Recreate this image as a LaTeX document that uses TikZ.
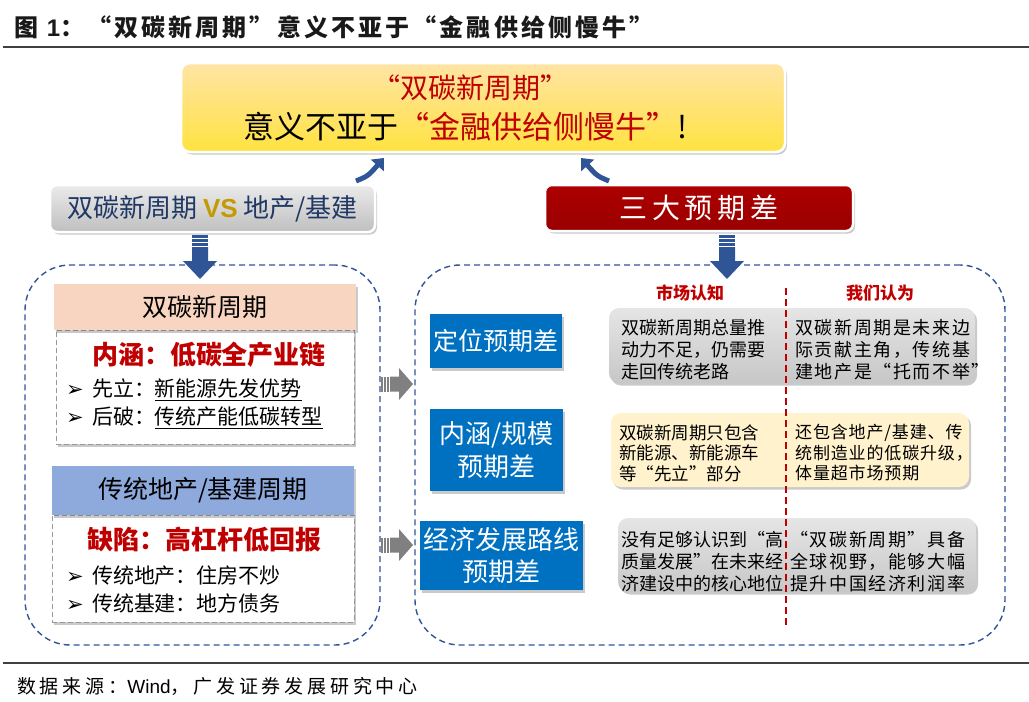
\documentclass[tikz,border=0pt]{standalone}
\usepackage{fontspec}
\setmainfont{Noto Sans CJK SC}
\newfontfamily\dejavu{DejaVu Sans}
\newfontfamily\lsans{Liberation Sans}
\usetikzlibrary{shadows,arrows.meta,calc}
\definecolor{cred}{HTML}{C00000}
\definecolor{cnavy}{HTML}{203864}
\definecolor{cblue}{HTML}{0070C0}
\definecolor{cdash}{HTML}{2F5597}
\definecolor{carrow}{HTML}{2F5597}
\definecolor{cgold}{HTML}{C39B00}
\definecolor{ccream}{HTML}{FFF2CC}
\definecolor{cpeach}{HTML}{F8D5C0}
\definecolor{cbluehead}{HTML}{8EA9DB}
\begin{document}
\begin{tikzpicture}[x=1pt,y=-1pt,
  sh/.style={drop shadow={shadow xshift=2pt,shadow yshift=-2.5pt,opacity=.35,fill=black!60}},
  topbox/.style={draw=white,line width=2.5pt,rounded corners=9pt,top color=yellow!40!orange!35!white,bottom color=yellow!70!orange!75,sh},
  grayhead/.style={draw=white,line width=2.5pt,rounded corners=7pt,top color=black!8,bottom color=black!25,sh},
  redhead/.style={draw=white,line width=2.5pt,rounded corners=7pt,top color=cred!90!black,bottom color=cred!80!black,sh},
  container/.style={draw=cdash,line width=1.4pt,dash pattern=on 6pt off 4pt,rounded corners=45pt},
  panelhead/.style={sh},
  panelbody/.style={draw=black!40,line width=1pt,dash pattern=on 5pt off 3pt,fill=white,sh},
  bluebox/.style={fill=cblue,sh},
  graybox/.style={rounded corners=10pt,top color=black!10,bottom color=black!22,sh},
  creambox/.style={rounded corners=10pt,fill=ccream,sh},
  rowtxt/.style={anchor=west,align=left,font=\fontsize{18}{22}\selectfont,inner sep=0pt},
  rowtxtr/.style={anchor=west,align=left,font=\fontsize{18}{22}\selectfont\addfontfeature{LetterSpace=9},inner sep=0pt},
  bluetxt/.style={text=white,align=center,font=\fontsize{25}{31}\selectfont}
]
\useasboundingbox (0,0) rectangle (1029,702);
% title
\node[anchor=west,inner sep=0pt,font=\bfseries\fontsize{24}{28}\selectfont\addfontfeature{LetterSpace=13},text=black!90] (title) at (14,27) {图\ {\lsans\bfseries 1}：“双碳新周期”意义不亚于“金融供给侧慢牛”};
\draw[black!75,line width=2pt] (3,47) -- (1029,47);
\draw[black!75,line width=1.5pt] (3,663) -- (1029,663);
\node[anchor=west,inner sep=0pt,font=\fontsize{19}{22}\selectfont\addfontfeature{LetterSpace=20}] (src) at (17,686) {数据来源：{\lsans Wind}，广发证券发展研究中心};

% top box
\node[topbox,minimum width=604pt,minimum height=89pt] (top) at (483,107.5) {};
\node[text=cred,font=\fontsize{28}{30}\selectfont] (t1) at (470,88) {“双碳新周期”};
\node[font=\fontsize{31}{34}\selectfont] (t2) at (466,127) {意义不亚于\textcolor{cred}{“金融供给侧慢牛”}!};

% headers
\node[grayhead,minimum width=325pt,minimum height=47pt,text=cnavy,font=\fontsize{26}{30}\selectfont] (lh) at (212.5,208.5) {双碳新周期 {\lsans\bfseries\color{cgold}VS} 地产/基建};
\node[redhead,minimum width=308pt,minimum height=46pt,text=white,font=\fontsize{28}{32}\selectfont] (rh) at (699,208) {三\,大\,预\,期\,差};

% curved arrows to top box
\coordinate (la0) at (356,181);
\coordinate (la1) at (384,158);
\coordinate (ra0) at (609,181);
\coordinate (ra1) at (581,158);
\draw[carrow,line width=5pt,-{Triangle[length=10pt,width=17pt]}] (la0) .. controls (368,176) .. (la1);
\draw[carrow,line width=5pt,-{Triangle[length=10pt,width=17pt]}] (ra0) .. controls (597,176) .. (ra1);

% containers
\node[container,minimum width=355pt,minimum height=380pt] (lc) at (202.5,455) {};
\node[container,minimum width=590pt,minimum height=380pt] (rc) at (710,455) {};

% blue down arrows
\foreach \cx in {200,727}{
  \begin{scope}[shift={(\cx,0)}]
    \fill[carrow] (-8,235) rectangle (8,237.5);
    \fill[carrow] (-8,239) rectangle (8,241.5);
    \fill[carrow] (-8,243) rectangle (8,245.5);
    \fill[carrow] (-8,247) -- (8,247) -- (8,261) -- (17,261) -- (0,279) -- (-17,261) -- (-8,261) -- cycle;
  \end{scope}
}
% gray side arrows
\foreach \cy in {384,545}{
  \begin{scope}[shift={(397,\cy)}]
    \fill[black!50] (-16,-7.5) rectangle (-14.5,7.5);
    \fill[black!50] (-13,-7.5) rectangle (-11.5,7.5);
    \fill[black!50] (-10,-7.5) rectangle (-8.5,7.5);
    \fill[black!50] (-7,-7.5) -- (2,-7.5) -- (2,-16) -- (16,0) -- (2,16) -- (2,7.5) -- (-7,7.5) -- cycle;
  \end{scope}
}

% left panel 1
\node[panelbody,minimum width=298pt,minimum height=114pt] (p1b) at (205,387) {};
\node[panelhead,fill=cpeach,minimum width=302pt,minimum height=46pt,font=\fontsize{25}{30}\selectfont] (p1h) at (205,307) {双碳新周期};
\node[text=cred,font=\bfseries\fontsize{26}{30}\selectfont] (p1a) at (209,355) {内涵：低碳全产业链};
\node[anchor=west,inner sep=0pt,font=\fontsize{21}{25}\selectfont] (p1c) at (66,390) {{\dejavu ➢}\, 先立：\underline{新能源先发优势}};
\node[anchor=west,inner sep=0pt,font=\fontsize{21}{25}\selectfont] (p1d) at (66,418) {{\dejavu ➢}\, 后破：\underline{传统产能低碳转型}};

% left panel 2
\node[panelbody,minimum width=302pt,minimum height=107pt] (p2b) at (203,568.5) {};
\node[panelhead,fill=cbluehead,minimum width=302pt,minimum height=49pt,font=\fontsize{25}{30}\selectfont] (p2h) at (203,490.5) {传统地产/基建周期};
\node[text=cred,font=\bfseries\fontsize{26}{30}\selectfont] (p2a) at (204,540) {缺陷：高杠杆低回报};
\node[anchor=west,inner sep=0pt,font=\fontsize{21}{25}\selectfont] (p2c) at (66,576) {{\dejavu ➢}\, 传统地产：住房不炒};
\node[anchor=west,inner sep=0pt,font=\fontsize{21}{25}\selectfont] (p2d) at (66,603) {{\dejavu ➢}\, 传统基建：地方债务};

% right panel
\node[text=cred,font=\bfseries\fontsize{17}{20}\selectfont] (c1) at (690,293) {市场认知};
\node[text=cred,font=\bfseries\fontsize{17}{20}\selectfont] (c2) at (880,293) {我们认为};

% row 1
\node[bluebox,minimum width=132pt,minimum height=54pt,bluetxt] (b1) at (496,341) {定位预期差};
\node[graybox,minimum width=366pt,minimum height=75pt] (g1) at (792,345.5) {};
\node[rowtxt] (g1l) at (621,350) {双碳新周期总量推\\动力不足，仍需要\\走回传统老路};
\node[rowtxtr] (g1r) at (795,350) {双碳新周期是未来边\\际贡献主角，传统基\\建地产是“托而不举”};
% row 2
\node[bluebox,minimum width=133pt,minimum height=82pt,bluetxt,font=\fontsize{26}{33}\selectfont] (b2) at (496.5,450) {内涵/规模\\预期差};
\node[creambox,minimum width=358pt,minimum height=74pt] (g2) at (790,450) {};
\node[rowtxt,font=\fontsize{17.5}{20.5}\selectfont] (g2l) at (619,453) {双碳新周期只包含\\新能源、新能源车\\等“先立”部分};
\node[rowtxtr,font=\fontsize{17}{20.5}\selectfont\addfontfeature{LetterSpace=5}] (g2r) at (795,453) {还包含地产/基建、传\\统制造业的低碳升级，\\体量超市场预期};
% row 3
\node[bluebox,minimum width=143pt,minimum height=69pt,bluetxt,font=\fontsize{26}{32}\selectfont] (b3) at (501.5,555.5) {经济发展路线\\预期差};
\node[graybox,minimum width=358pt,minimum height=74pt] (g3) at (797,555) {};
\node[rowtxt] (g3l) at (621,562) {没有足够认识到“高\\质量发展”在未来经\\济建设中的核心地位};
\node[rowtxtr] (g3r) at (790,562) {“双碳新周期”具备\\全球视野，能够大幅\\提升中国经济利润率};

% red dashed divider
\coordinate (dv0) at (786,288);
\coordinate (dv1) at (786,625);
\draw[cred,line width=1.3pt,dash pattern=on 7pt off 4pt] (dv0) -- (dv1);
\end{tikzpicture}
\end{document}
